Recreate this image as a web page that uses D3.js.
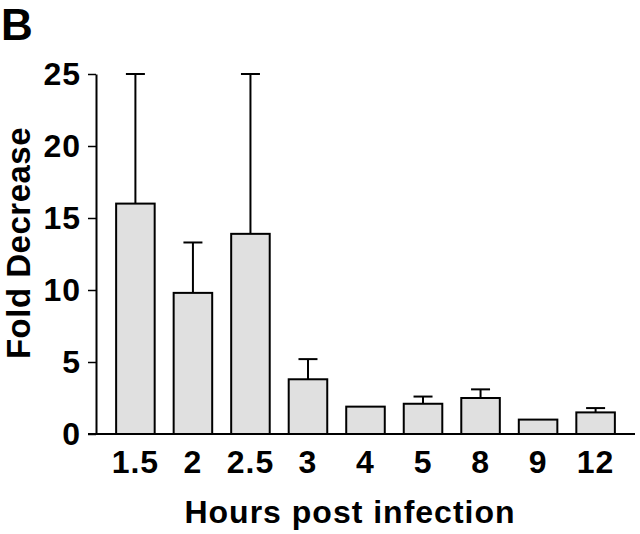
<!DOCTYPE html>
<html>
<head>
<meta charset="utf-8">
<script src="https://cdn.jsdelivr.net/npm/d3@7"></script>
<style>
  body { margin: 0; background: #fff; }
  text { font-family: 'Liberation Sans', Arial, Helvetica, sans-serif; font-weight: bold; fill: #000; }
</style>
</head>
<body>
<div id="vis"></div>
<script>
const HOURS = ['1.5', '2', '2.5', '3', '4', '5', '8', '9', '12']
const FOLD_DECREASE = [16.0, 9.8, 13.9, 3.8, 1.9, 2.1, 2.5, 1.0, 1.5]
const ERROR_UP = [9.0, 3.5, 11.1, 1.4, 0, 0.5, 0.6, 0, 0.3]
const Y_TICKS = [0, 5, 10, 15, 20, 25]

let width = 640, height = 534
let margin = {top: 74, right: 5, bottom: 100, left: 96}

let svg = d3.select('#vis')
    .append('svg')
    .attr('width', width)
    .attr('height', height)

let data = HOURS.map((h, i) => ({hour: h, value: FOLD_DECREASE[i], err: ERROR_UP[i]}))

let x = d3.scaleBand()
    .domain(HOURS)
    .range([margin.left, width - margin.right])
    .paddingInner(0.33)
    .paddingOuter(0.35)

let y = d3.scaleLinear()
    .domain([0, 25])
    .range([height - margin.bottom, margin.top])

// panel letter
svg.append('text')
    .attr('x', 1)
    .attr('y', 40)
    .style('font-size', '44px')
    .text('B')

// error bars (upper only)
let errs = svg.append('g')
    .selectAll('g')
    .data(data.filter(d => d.err > 0))
    .enter().append('g')
    .attr('stroke', '#000')
    .attr('stroke-width', 2)

errs.append('line')
    .attr('x1', d => x(d.hour) + x.bandwidth() / 2)
    .attr('x2', d => x(d.hour) + x.bandwidth() / 2)
    .attr('y1', d => y(d.value))
    .attr('y2', d => y(d.value + d.err))

errs.append('line')
    .attr('x1', d => x(d.hour) + x.bandwidth() / 2 - 9.5)
    .attr('x2', d => x(d.hour) + x.bandwidth() / 2 + 9.5)
    .attr('y1', d => y(d.value + d.err))
    .attr('y2', d => y(d.value + d.err))

// bars
svg.append('g')
    .selectAll('rect')
    .data(data)
    .enter().append('rect')
    .attr('x', d => x(d.hour))
    .attr('y', d => y(d.value))
    .attr('width', x.bandwidth())
    .attr('height', d => y(0) - y(d.value))
    .attr('fill', '#e0e0e0')
    .attr('stroke', '#000')
    .attr('stroke-width', 2)

// y axis
let yAxis = svg.append('g')
    .attr('transform', `translate(${margin.left},0)`)
    .call(d3.axisLeft(y).tickValues(Y_TICKS).tickSize(8).tickPadding(7).tickSizeOuter(0))
yAxis.select('.domain').attr('stroke-width', 2)
yAxis.selectAll('.tick line').attr('stroke-width', 1.5)
yAxis.selectAll('.tick text')
    .style('font-size', '32px')
    .style('font-family', "'Liberation Sans', Arial, sans-serif")
    .style('letter-spacing', '1px')
    .attr('dy', '0.34em')

// x axis baseline
svg.append('line')
    .attr('x1', margin.left - 8)
    .attr('x2', width - margin.right)
    .attr('y1', y(0))
    .attr('y2', y(0))
    .attr('stroke', '#000')
    .attr('stroke-width', 2)

// x labels
svg.append('g')
    .selectAll('text')
    .data(HOURS)
    .enter().append('text')
    .attr('x', d => x(d) + x.bandwidth() / 2)
    .attr('y', 473)
    .attr('text-anchor', 'middle')
    .style('font-size', '32px')
    .style('letter-spacing', '1px')
    .text(d => d)

// axis titles
svg.append('text')
    .attr('x', 350)
    .attr('y', 523)
    .attr('text-anchor', 'middle')
    .style('font-size', '32px')
    .style('letter-spacing', '1px')
    .text('Hours post infection')

svg.append('text')
    .attr('transform', 'translate(30,243) rotate(-90)')
    .attr('text-anchor', 'middle')
    .style('font-size', '33px')
    .style('letter-spacing', '0.5px')
    .text('Fold Decrease')
</script>
</body>
</html>
